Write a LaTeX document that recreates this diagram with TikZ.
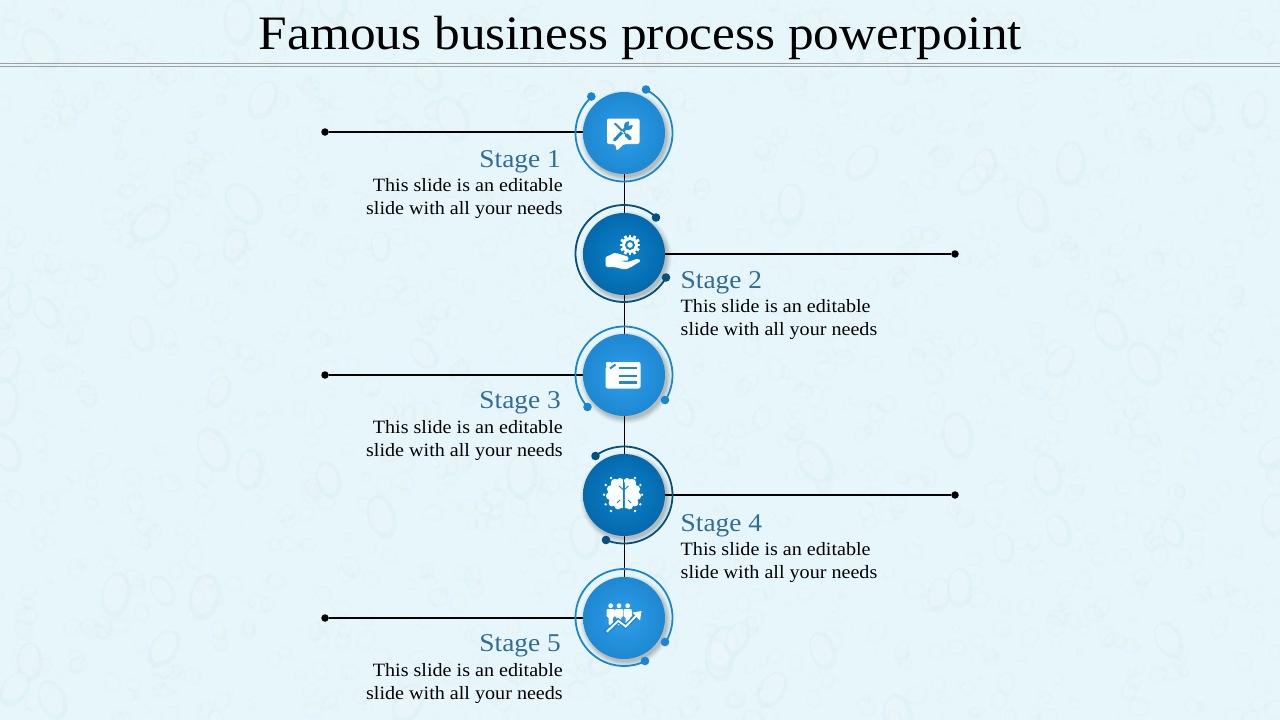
\documentclass[tikz,border=0pt]{standalone}
\usepackage{fontspec}
\setmainfont{Liberation Serif}[FakeStretch=1.07]
\usetikzlibrary{arrows.meta}
\pgfdeclarelayer{bg}
\pgfsetlayers{bg,main}
\definecolor{bgbase}{HTML}{E7F6FA}
\definecolor{dropa}{HTML}{D2EAF0}
\definecolor{lightblue}{HTML}{1E88D2}
\definecolor{lightcore}{HTML}{2E9EEA}
\definecolor{darkblue}{HTML}{0569AC}
\definecolor{darkcore}{HTML}{0A84CE}
\definecolor{ringlight}{HTML}{1A86CF}
\definecolor{ringdark}{HTML}{07507C}
\definecolor{stagecol}{HTML}{2F6D98}
\tikzset{
  x=1pt,y=1pt,
  disklight/.style={circle,minimum size=82pt,inner sep=0pt,inner color=lightcore,outer color=lightblue},
  diskdark/.style={circle,minimum size=82pt,inner sep=0pt,inner color=darkcore,outer color=darkblue},
  enddot/.style={circle,fill=black,minimum size=7.5pt,inner sep=0pt},
  ringdot/.style={circle,minimum size=8.6pt,inner sep=0pt},
  leader/.style={draw=black,line width=2pt},
  spine/.style={draw=black,line width=1pt},
  ringline/.style={line width=1.8pt},
  stagetxt/.style={text=stagecol,font=\fontsize{25.6}{30}\selectfont,inner sep=0pt},
  bodytxt/.style={text=black,font=\fontsize{18.8}{23}\selectfont,inner sep=0pt},
  ico/.style={fill=white,draw=none},
}
\newcommand{\softshadow}[2]{%
  \foreach \rr/\oo in {46/.025,45/.03,44/.04,43/.045,42/.05,41/.06}
    \fill[black,opacity=\oo] (#1+2,#2-3) circle (\rr);
}
\begin{document}
\begin{tikzpicture}
\useasboundingbox (0,-720) rectangle (1280,0);
% ---------- disks and shadows
\softshadow{624}{-133}
\softshadow{624}{-254}
\softshadow{624}{-375}
\softshadow{624}{-495}
\softshadow{624}{-618}
\node[disklight] (d1) at (624,-133) {};
\node[diskdark]  (d2) at (624,-254) {};
\node[disklight] (d3) at (624,-375) {};
\node[diskdark]  (d4) at (624,-495) {};
\node[disklight] (d5) at (624,-618) {};
% ---------- leader end dots
\node[enddot] (e1) at (325,-132) {};
\node[enddot] (e2) at (955,-254) {};
\node[enddot] (e3) at (325,-375) {};
\node[enddot] (e4) at (955,-495) {};
\node[enddot] (e5) at (325,-618) {};
% ---------- rings
\draw[ringline,draw=ringlight] (624,-133)++(63:48.5) arc[start angle=63,end angle=-228,radius=48.5];
\node[ringdot,fill=ringlight] (r1a) at (646,-89.5) {};
\node[ringdot,fill=ringlight] (r1b) at (591.3,-96.5) {};
\draw[ringline,draw=ringdark] (624,-253.5)++(48:48.5) arc[start angle=48,end angle=330,radius=48.5];
\node[ringdot,fill=ringdark] (r2a) at (656,-217.5) {};
\node[ringdot,fill=ringdark] (r2b) at (666,-277.5) {};
\draw[ringline,draw=ringlight] (624,-375)++(-31:48.5) arc[start angle=-31,end angle=221,radius=48.5];
\node[ringdot,fill=ringlight] (r3a) at (665,-400) {};
\node[ringdot,fill=ringlight] (r3b) at (587.5,-407) {};
\draw[ringline,draw=ringdark] (624,-495)++(127:48.5) arc[start angle=127,end angle=-112,radius=48.5];
\node[ringdot,fill=ringdark] (r4a) at (595.5,-456) {};
\node[ringdot,fill=ringdark] (r4b) at (606,-540) {};
\draw[ringline,draw=ringlight] (624,-617.5)++(-30:48.5) arc[start angle=-30,end angle=296,radius=48.5];
\node[ringdot,fill=ringlight] (r5a) at (665,-642) {};
\node[ringdot,fill=ringlight] (r5b) at (645,-661) {};
% ---------- background layer: paper, texture, connectors
\begin{pgfonlayer}{bg}
  \fill[bgbase] (0,-720) rectangle (1280,0);
  \pgfmathsetseed{4217}
  \foreach \i in {1,...,1700}{
    \pgfmathsetmacro{\px}{random(0,1280)}
    \pgfmathsetmacro{\py}{-random(0,720)}
    \pgfmathsetmacro{\ang}{random(0,180)}
    \pgfmathsetmacro{\ra}{3+random(0,9)}
    \pgfmathsetmacro{\rb}{\ra*0.8}
    \fill[dropa,opacity=.14,rotate around={\ang:(\px,\py)}] (\px,\py) ellipse ({\ra} and {\rb});
    \fill[white,opacity=.18,rotate around={\ang:(\px,\py)}] (\px+.8,\py+.6) ellipse ({\ra*.72} and {\rb*.66});
  }
  \foreach \i in {1,...,70}{
    \pgfmathsetmacro{\px}{random(0,1280)}
    \pgfmathsetmacro{\py}{-random(0,720)}
    \pgfmathsetmacro{\ang}{random(40,130)}
    \pgfmathsetmacro{\ra}{16+random(0,8)}
    \fill[dropa,opacity=.22,rotate around={\ang:(\px,\py)}] (\px,\py) ellipse ({\ra} and {\ra*.65});
    \fill[white,opacity=.25,rotate around={\ang:(\px,\py)}] (\px+1.5,\py+1) ellipse ({\ra*.8} and {\ra*.48});
  }
  \draw[draw=black!38,line width=1pt] (0,-63.5) -- (1280,-63.5);
  \draw[draw=black!38,line width=1pt] (0,-66.5) -- (1280,-66.5);
  \draw[spine] (d1) -- (d2);
  \draw[spine] (d2) -- (d3);
  \draw[spine] (d3) -- (d4);
  \draw[spine] (d4) -- (d5);
  \draw[leader] (e1) -- (d1.west |- e1);
  \draw[leader] (e2) -- (d2);
  \draw[leader] (e3) -- (d3);
  \draw[leader] (e4) -- (d4);
  \draw[leader] (e5) -- (d5);
\end{pgfonlayer}
% ---------- title
\node[font=\fontsize{48}{54}\selectfont,text=black,inner sep=0pt] (title) at (640.5,-38) {Famous business process powerpoint};
% ---------- texts
\node[stagetxt,anchor=east] (s1) at (561,-161.5) {Stage 1};
\node[bodytxt,anchor=north east,align=right] (b1) at (563,-178) {This slide is an editable\\slide with all your needs};
\node[stagetxt,anchor=west] (s2) at (680.5,-282.5) {Stage 2};
\node[bodytxt,anchor=north west,align=left] (b2) at (680.5,-299) {This slide is an editable\\slide with all your needs};
\node[stagetxt,anchor=east] (s3) at (561,-402.5) {Stage 3};
\node[bodytxt,anchor=north east,align=right] (b3) at (563,-420) {This slide is an editable\\slide with all your needs};
\node[stagetxt,anchor=west] (s4) at (680.5,-525.5) {Stage 4};
\node[bodytxt,anchor=north west,align=left] (b4) at (680.5,-542) {This slide is an editable\\slide with all your needs};
\node[stagetxt,anchor=east] (s5) at (561,-645.5) {Stage 5};
\node[bodytxt,anchor=north east,align=right] (b5) at (563,-663) {This slide is an editable\\slide with all your needs};
% ---------- icon 1: speech bubble with crossed tools
\fill[ico,rounded corners=2pt] (607,-118.5) -- (639.5,-118.5) -- (639.5,-144) -- (624,-144) -- (616.5,-151) -- (615.5,-144) -- (607,-144) -- cycle;
% screwdriver
\draw[lightblue,line width=2pt,line cap=round] (615,-123.5) -- (625,-133.5);
\draw[lightblue,line width=3.6pt,line cap=round] (626.5,-135) -- (630,-138.5);
% wrench
\draw[lightblue,line width=3pt,line cap=round] (614.5,-140) -- (626,-128);
\fill[lightblue] (628.3,-125.8) circle (4.4);
\fill[white] (628.4,-125.7) -- (630,-120) -- (635,-124.5) -- cycle;
\draw[white,line width=.8pt] (621.5,-131) -- (623.5,-133);
% ---------- icon 2: gear above a hand
\foreach \a in {0,30,...,330}
  \fill[white] (630,-245)++(\a-11:7.5) -- ++(\a:3) -- ++(\a+90:2.8) -- ++(\a+180:3) -- cycle;
\fill[white] (630,-245) circle (8);
\fill[darkcore] (630,-245) circle (5);
\fill[white] (630,-245) circle (2.8);
\fill[ico,rounded corners=1.5pt] (605.5,-256.5) .. controls (610,-256) and (613,-253) .. (616,-253)
  -- (626,-256) .. controls (629,-257) and (629,-260.5) .. (626,-260.5) -- (620,-261)
  -- (628,-262) -- (638,-258.5) -- (641,-261) .. controls (634,-265) and (628,-270) .. (622,-269)
  .. controls (616,-267) and (611,-267) .. (605.5,-267) -- cycle;
% ---------- icon 3: card with list
\fill[ico,rounded corners=2pt] (612,-362) -- (640.5,-362) -- (640.5,-388.5) -- (605.5,-388.5) -- (605.5,-367) -- cycle;
\fill[ico,rounded corners=1pt] (606,-362) -- (612,-362) -- (606,-367) -- cycle;
\draw[lightblue,line width=2pt] (610,-368.5) -- (615.5,-364.5);
\foreach \yy in {-368.3,-375.7,-382.5}
  \draw[lightblue,line width=2.3pt] (619.3,\yy) -- (636.7,\yy);
% ---------- icon 4: brain with sparkles
\fill[white] (622.8,-479) -- (622.8,-508) -- (616,-508) -- (609,-500) -- (608,-490) -- (614,-480) -- cycle;
\fill[white] (624.8,-479) -- (624.8,-508) -- (630,-508) -- (638,-500) -- (639,-490) -- (633,-480) -- cycle;
\foreach \xx/\yy/\rr in {615/-483/4.2,620/-481/3,610.5/-489/3.6,609.5/-496/3.6,612/-503/3.4,618/-506/3.4,632/-483/4.2,627/-481/3,636.5/-489/3.6,637.5/-496/3.6,635/-503/3.4,629.5/-506/3.4}
  \fill[white] (\xx,\yy) circle (\rr);
\draw[darkcore,line width=.9pt] (623.7,-490) -- (619,-486);
\draw[darkcore,line width=.9pt] (623.7,-490) -- (628.5,-486);
\draw[darkcore,line width=.9pt] (617,-503) -- (620,-500);
\draw[darkcore,line width=.9pt] (631,-503) -- (628,-500);
\foreach \xx/\yy in {611/-478,635/-478,605.7/-485,640.3/-485,604/-494.7,642/-494.7,605.7/-504.3,640.3/-504.3,611/-511,635/-511}
  \fill[white] (\xx,\yy) circle (1.3);
% ---------- icon 5: people and rising arrow
\foreach \xx in {610.7,619,627.7}{
  \fill[white] (\xx,-605.7) circle (2.4);
  \fill[white,rounded corners=1pt] (\xx-4,-609) -- (\xx+4,-609) -- (\xx+4.2,-617) -- (\xx+2.2,-617) -- (\xx+2,-625) -- (\xx-2,-625) -- (\xx-2.2,-617) -- (\xx-4.2,-617) -- cycle;
}
\draw[lightblue,line width=4.6pt] (605,-633) -- (618.3,-620.8) -- (625.7,-626.5) -- (637,-615);
\draw[white,line width=1.9pt] (606.7,-631.7) -- (618.3,-620.8) -- (625.7,-626.5) -- (638,-614);
\fill[white] (641.5,-611) -- (632.5,-612.5) -- (640,-620.5) -- cycle;
\end{tikzpicture}
\end{document}
